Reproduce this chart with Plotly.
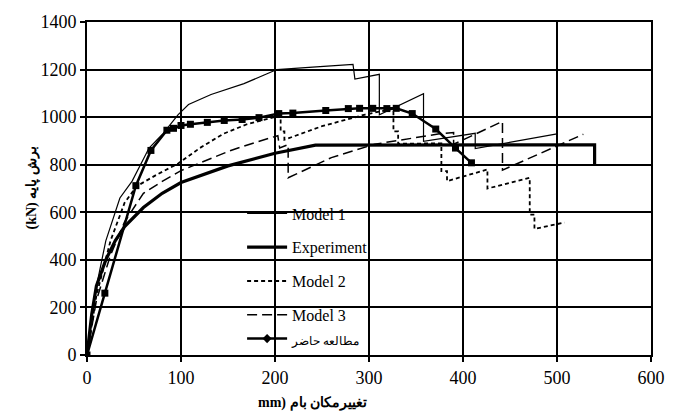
import plotly.graph_objects as go

# Roof displacement (mm) vs base shear (kN)
model1_x = [0, 8, 20, 35, 48, 66, 80, 97, 108, 132, 167, 202, 240, 283, 285, 311, 311, 358, 358, 413, 413, 500]
model1_y = [0, 250, 480, 660, 731, 870, 927, 1011, 1053, 1095, 1141, 1200, 1210, 1222, 1160, 1180, 1010, 1099, 898, 932, 868, 930]

exp_x = [0, 5, 10, 20, 30, 40, 60, 80, 100, 150, 200, 243, 540, 540]
exp_y = [0, 170, 290, 400, 480, 540, 620, 680, 725, 795, 848, 882, 884, 800]

model2_x = [0, 10, 25, 40, 53, 75, 97, 120, 145, 170, 202, 206, 206, 210, 210, 250, 296, 326, 326, 331, 331, 377, 377, 383, 383, 426, 426, 471, 471, 476, 476, 508]
model2_y = [0, 250, 480, 640, 710, 760, 805, 870, 930, 970, 1003, 1005, 940, 940, 905, 962, 1011, 1035, 940, 940, 888, 890, 773, 773, 731, 780, 700, 745, 590, 590, 530, 557]

model3_x = [0, 10, 25, 40, 60, 80, 100, 125, 153, 180, 203, 205, 214, 214, 260, 306, 375, 390, 390, 442, 442, 528]
model3_y = [0, 230, 420, 560, 680, 730, 775, 815, 860, 895, 922, 870, 885, 745, 830, 886, 930, 935, 886, 982, 777, 928]

study_x = [0, 19, 52, 68, 85, 92, 100, 110, 128, 146, 165, 183, 204, 219, 254, 278, 290, 304, 319, 329, 346, 371, 392, 409]
study_y = [0, 260, 712, 860, 945, 953, 965, 970, 978, 986, 990, 998, 1015, 1017, 1028, 1036, 1037, 1037, 1036, 1037, 1015, 950, 870, 808]

x_ticks = [0, 100, 200, 300, 400, 500, 600]
y_ticks = [0, 200, 400, 600, 800, 1000, 1200, 1400]

SERIF = "Liberation Serif, Times New Roman, serif"

fig = go.Figure()
fig.add_trace(go.Scatter(x=model1_x, y=model1_y, mode="lines", name="Model 1",
                         legendgroup="a", line=dict(color="black", width=1.2)))
fig.add_trace(go.Scatter(x=exp_x, y=exp_y, mode="lines", name="Experiment",
                         legendgroup="b", line=dict(color="black", width=3.2)))
fig.add_trace(go.Scatter(x=model2_x, y=model2_y, mode="lines", name="Model 2",
                         legendgroup="c", line=dict(color="black", width=1.8, dash="4px,3px")))
fig.add_trace(go.Scatter(x=model3_x, y=model3_y, mode="lines", name="Model 3",
                         legendgroup="d", line=dict(color="black", width=1.5, dash="10px,5px")))
fig.add_trace(go.Scatter(x=study_x, y=study_y, mode="lines+markers", showlegend=False,
                         line=dict(color="black", width=2.5),
                         marker=dict(symbol="square", size=7, color="black")))
# legend entry for the present study (diamond marks)
fig.add_trace(go.Scatter(x=[None], y=[None], mode="lines+markers", legendgroup="d",
                         name="<span style='font-size:12px'>مطالعه حاضر</span>",
                         line=dict(color="black", width=2.5),
                         marker=dict(symbol="diamond", size=7, color="black")))

axis_common = dict(showgrid=True, gridcolor="black", gridwidth=1.5,
                   showline=True, linecolor="black", linewidth=1.8, mirror=True,
                   ticks="outside", ticklen=5, tickwidth=1.5, tickcolor="black",
                   zeroline=False, tickfont=dict(family=SERIF, size=18, color="black"))

fig.update_xaxes(range=[0, 600], tickvals=x_ticks, **axis_common)
fig.update_yaxes(range=[0, 1400], tickvals=y_ticks, **axis_common)

fig.add_annotation(text="<b>mm) تغییرمکان بام</b>", xref="paper", yref="paper",
                   x=0.40, y=-0.143, showarrow=False, yanchor="middle",
                   font=dict(family=SERIF, size=14, color="black"))
fig.add_annotation(text="<b>(kN) برش پایه</b>", xref="paper", yref="paper",
                   x=-0.117, y=0.50, showarrow=False, textangle=-90,
                   font=dict(family=SERIF, size=14, color="black"))

fig.update_layout(
    width=677, height=412,
    margin=dict(l=87, r=16, t=19, b=57),
    paper_bgcolor="white", plot_bgcolor="white",
    showlegend=True,
    legend=dict(x=0.275, y=0.476, xanchor="left", yanchor="top",
                bgcolor="rgba(0,0,0,0)", tracegroupgap=10, itemwidth=40,
                font=dict(family=SERIF, size=16, color="black")),
)

fig.write_html("out.html")
